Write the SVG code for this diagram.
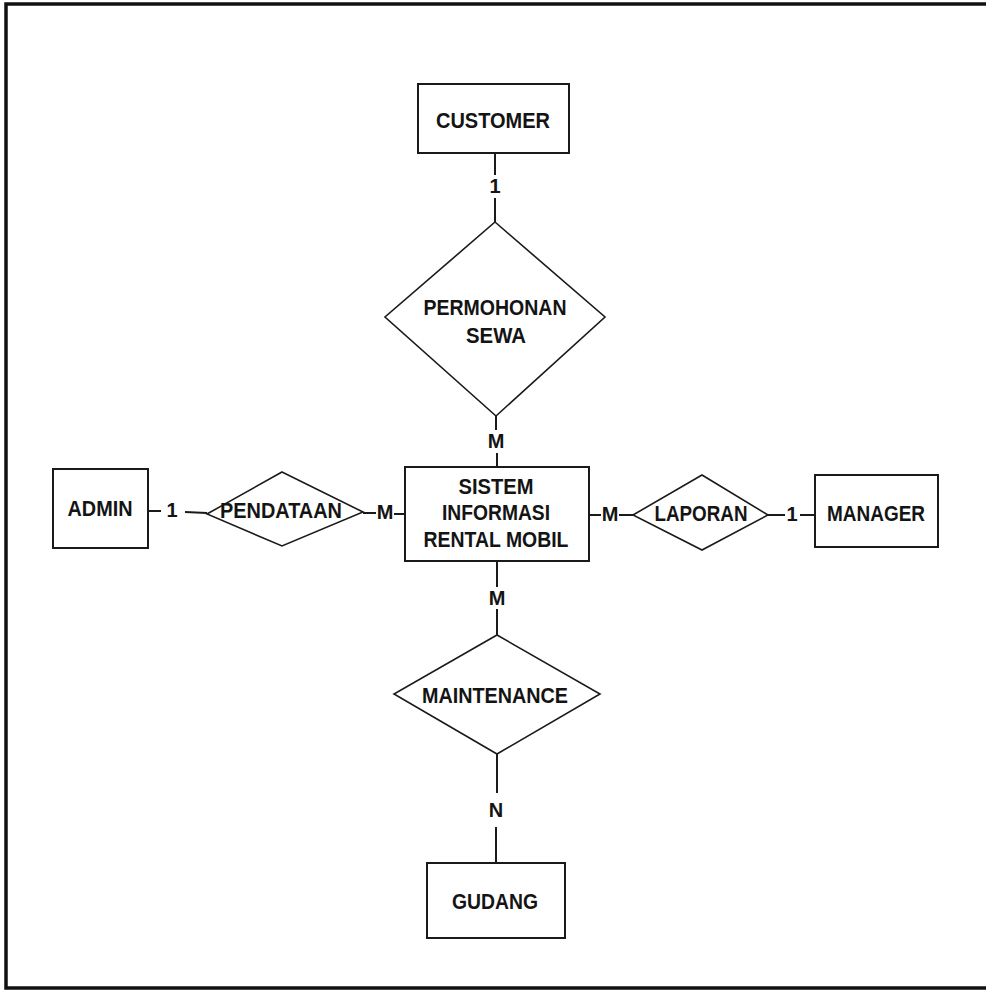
<svg xmlns="http://www.w3.org/2000/svg" width="986" height="993" viewBox="0 0 986 993">
  <style>
    .ent { fill: #ffffff; stroke: #1a1a1a; stroke-width: 2; }
    .rel { fill: #ffffff; stroke: #1a1a1a; stroke-width: 1.6; }
    .ln { stroke: #1a1a1a; stroke-width: 2; fill: none; }
    text { font-family: "Liberation Sans", Arial, Helvetica, sans-serif; font-weight: bold; font-size: 21.5px; fill: #141414; text-anchor: middle; }
    .card { font-size: 20px; }
  </style>

  <!-- page background and frame -->
  <rect x="0" y="0" width="986" height="993" fill="#ffffff"/>
  <path d="M986,4 H6 V988 H986" fill="none" stroke="#111111" stroke-width="3.5"/>

  <!-- connectors with cardinality labels -->
  <g id="connectors">
    <!-- CUSTOMER - PERMOHONAN SEWA -->
    <line class="ln" x1="495" y1="153" x2="495" y2="175"/>
    <text class="card" x="495" y="193">1</text>
    <line class="ln" x1="495" y1="198" x2="495" y2="222"/>
    <!-- PERMOHONAN SEWA - SISTEM -->
    <line class="ln" x1="496" y1="416" x2="496" y2="430"/>
    <text class="card" x="496" y="448">M</text>
    <line class="ln" x1="497" y1="453" x2="497" y2="467"/>
    <!-- ADMIN - PENDATAAN -->
    <line class="ln" x1="148" y1="511" x2="161" y2="511"/>
    <text class="card" x="172" y="517">1</text>
    <line class="ln" x1="185" y1="512" x2="207" y2="513"/>
    <!-- PENDATAAN - SISTEM -->
    <line class="ln" x1="363" y1="513" x2="376" y2="513"/>
    <text class="card" x="385" y="519">M</text>
    <line class="ln" x1="394" y1="514" x2="405" y2="514"/>
    <!-- SISTEM - LAPORAN -->
    <line class="ln" x1="589" y1="515" x2="601" y2="515"/>
    <text class="card" x="610" y="521">M</text>
    <line class="ln" x1="619" y1="515" x2="633" y2="515"/>
    <!-- LAPORAN - MANAGER -->
    <line class="ln" x1="768" y1="515" x2="785" y2="515"/>
    <text class="card" x="792" y="521">1</text>
    <line class="ln" x1="800" y1="515" x2="815" y2="515"/>
    <!-- SISTEM - MAINTENANCE -->
    <line class="ln" x1="497" y1="561" x2="497" y2="587"/>
    <text class="card" x="497" y="605">M</text>
    <line class="ln" x1="497" y1="609" x2="497" y2="635"/>
    <!-- MAINTENANCE - GUDANG -->
    <line class="ln" x1="497" y1="754" x2="497" y2="793"/>
    <text class="card" x="496" y="817">N</text>
    <line class="ln" x1="496" y1="827" x2="496" y2="863"/>
  </g>

  <!-- entities -->
  <g id="customer">
    <rect class="ent" x="418" y="84" width="151" height="69"/>
    <text x="493" y="128" textLength="114" lengthAdjust="spacingAndGlyphs">CUSTOMER</text>
  </g>

  <g id="sistem">
    <rect class="ent" x="405" y="467" width="184" height="94"/>
    <text x="496" y="494" textLength="75" lengthAdjust="spacingAndGlyphs">SISTEM</text>
    <text x="496" y="520" textLength="108" lengthAdjust="spacingAndGlyphs">INFORMASI</text>
    <text x="496" y="547" textLength="145" lengthAdjust="spacingAndGlyphs">RENTAL MOBIL</text>
  </g>

  <g id="admin">
    <rect class="ent" x="53" y="469" width="95" height="79"/>
    <text x="100" y="516" textLength="65" lengthAdjust="spacingAndGlyphs">ADMIN</text>
  </g>

  <g id="manager">
    <rect class="ent" x="815" y="475" width="123" height="72"/>
    <text x="876" y="521" textLength="98" lengthAdjust="spacingAndGlyphs">MANAGER</text>
  </g>

  <g id="gudang">
    <rect class="ent" x="427" y="863" width="138" height="75"/>
    <text x="495" y="909" textLength="86" lengthAdjust="spacingAndGlyphs">GUDANG</text>
  </g>

  <!-- relationships -->
  <g id="permohonan-sewa">
    <polygon class="rel" points="495,222 605,317 496,416 385,317"/>
    <text x="495" y="315" textLength="143" lengthAdjust="spacingAndGlyphs">PERMOHONAN</text>
    <text x="496" y="343" textLength="60" lengthAdjust="spacingAndGlyphs">SEWA</text>
  </g>

  <g id="pendataan">
    <polygon class="rel" points="282,472 363,512 282,546 207,514"/>
    <text x="281" y="518" textLength="122" lengthAdjust="spacingAndGlyphs">PENDATAAN</text>
  </g>

  <g id="laporan">
    <polygon class="rel" points="702,475 768,515 702,550 633,515"/>
    <text x="701" y="521" textLength="93" lengthAdjust="spacingAndGlyphs">LAPORAN</text>
  </g>

  <g id="maintenance">
    <polygon class="rel" points="497,635 600,694 497,754 394,694"/>
    <text x="495" y="703" textLength="146" lengthAdjust="spacingAndGlyphs">MAINTENANCE</text>
  </g>
</svg>
